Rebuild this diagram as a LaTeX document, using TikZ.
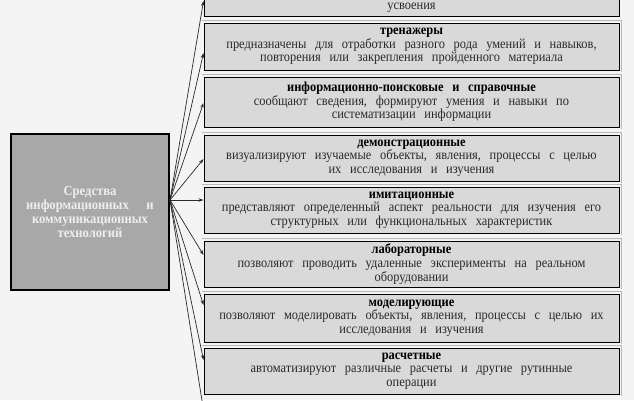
\documentclass[tikz,border=0pt]{standalone}
\usepackage{fontspec}
\setmainfont[WordSpace=2.8,FakeStretch=0.9]{Liberation Serif}
\usetikzlibrary{arrows.meta}
\definecolor{bgc}{HTML}{F4F4F4}
\definecolor{boxc}{HTML}{D9D9D9}
\definecolor{mainc}{HTML}{A8A8A8}
\definecolor{txtc}{HTML}{2A2A2A}
\definecolor{maintxt}{HTML}{EEEEEE}
\definecolor{framec}{HTML}{B8B8B8}
\newcommand{\ttl}[1]{\textcolor{black}{\textbf{#1}}}
\tikzset{
  rbox/.style={draw=black, line width=1pt, fill=boxc, minimum width=415pt, inner sep=0pt,
    align=center, text=txtc, font=\fontsize{13.8}{13.6}\selectfont},
  mbox/.style={draw=black, line width=1.2pt, fill=mainc, minimum width=158pt, minimum height=156pt,
    inner sep=0pt, align=center, text=maintxt, font=\fontsize{14}{13.8}\selectfont\bfseries},
  fanarrow/.style={draw=txtc, line width=0.7pt, -{Stealth[length=5pt,width=3.4pt]}},
  plaintxt/.style={inner sep=0pt, text=txtc, font=\fontsize{13.8}{13.6}\selectfont},
  frameline/.style={framec, line width=0.5pt}
}
\begin{document}
\begin{tikzpicture}[x=1pt,y=-1pt]
\useasboundingbox (0,0) rectangle (634,400);
\fill[bgc] (0,0) rectangle (634,400);
\clip (0,0) rectangle (634,400);

\node[mbox] (main) at (90,212) {Средства\\информационных\ \ и\\коммуникационных\\технологий};
\coordinate (src) at (170,200);

\node[rbox, minimum height=47pt] (b1) at (411.5,-7.5) {};
\node[plaintxt] (t1) at (411.5,8) {усвоения};
\node[rbox, minimum height=47pt] (b2) at (411.5,46.5) {\ttl{тренажеры}\\предназначены для отработки разного рода умений и навыков,\\повторения или закрепления пройденного материала};
\node[rbox, minimum height=50pt] (b3) at (411.5,102) {\ttl{информационно-поисковые и справочные}\\сообщают сведения, формируют умения и навыки по\\систематизации информации};
\node[rbox, minimum height=46pt] (b4) at (411.5,158) {\ttl{демонстрационные}\\визуализируют изучаемые объекты, явления, процессы с целью\\их исследования и изучения};
\node[rbox, minimum height=46pt] (b5) at (411.5,210) {\ttl{имитационные}\\представляют определенный аспект реальности для изучения его\\структурных или функциональных характеристик};
\node[rbox, minimum height=46pt] (b6) at (411.5,264) {\ttl{лабораторные}\\позволяют проводить удаленные эксперименты на реальном\\оборудовании};
\node[rbox, minimum height=48pt] (b7) at (411.5,318) {\ttl{моделирующие}\\позволяют моделировать объекты, явления, процессы с целью их\\исследования и изучения};
\node[rbox, minimum height=46pt] (b8) at (411.5,371) {\ttl{расчетные}\\автоматизируют различные расчеты и другие рутинные\\операции};
\node[rbox, minimum height=47pt] (b9) at (411.5,424.5) {};

\foreach \b in {b2,b3,b4,b5,b6,b7,b8}
  \draw[frameline] ([shift={(-1.5pt,2.5pt)}]\b.north west) -- ([shift={(1.5pt,2.5pt)}]\b.north east) -- ([shift={(1.5pt,-1.5pt)}]\b.south east);

\draw[fanarrow] (src) -- ([yshift=-8.5pt]b1.west);
\draw[fanarrow] (src) -- ([yshift=-6.5pt]b2.west);
\draw[fanarrow] (src) -- ([yshift=-1pt]b3.west);
\draw[fanarrow] (src) -- ([yshift=-1pt]b4.west);
\draw[fanarrow] (src) -- ([yshift=10pt]b5.west);
\draw[fanarrow] (src) -- ([yshift=9pt]b6.west);
\draw[fanarrow] (src) -- ([yshift=13pt]b7.west);
\draw[fanarrow] (src) -- ([yshift=11pt]b8.west);
\draw[fanarrow] (src) -- ([yshift=14.5pt]b9.west);
\end{tikzpicture}
\end{document}
